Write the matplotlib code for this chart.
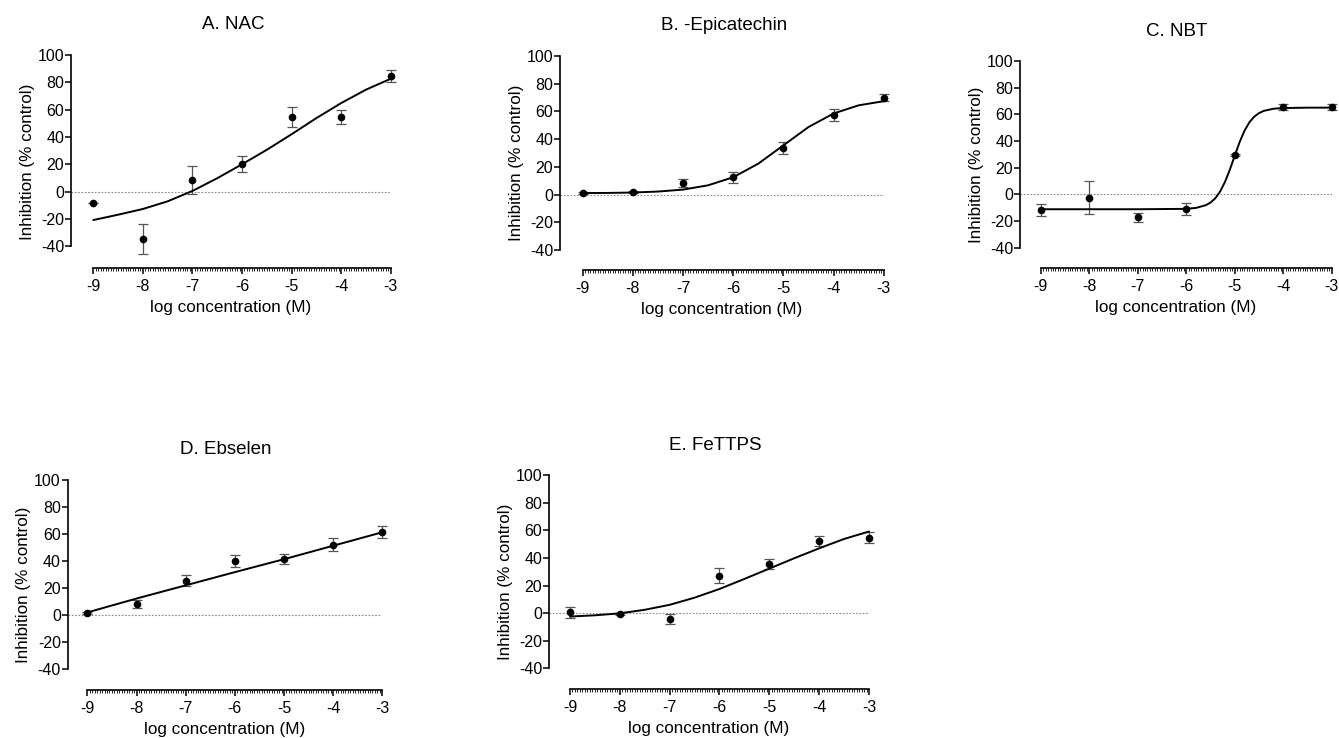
import matplotlib
matplotlib.use("Agg")
import matplotlib.pyplot as plt
import numpy as np
from matplotlib.ticker import FixedLocator

plt.rcParams['font.family'] = ['Liberation Sans', 'DejaVu Sans']
plt.rcParams['axes.unicode_minus'] = False

# ---- data ----
log_conc = [-9, -8, -7, -6, -5, -4, -3]
x_ticks = [-9, -8, -7, -6, -5, -4, -3]
y_ticks = [-40, -20, 0, 20, 40, 60, 80, 100]

titles = ["A. NAC", "B. -Epicatechin", "C. NBT", "D. Ebselen", "E. FeTTPS"]

nac_mean = [-8.0, -34.7, 8.5, 20.2, 54.5, 54.5, 84.8]
nac_err = [0.0, 11.0, 10.6, 6.0, 7.5, 5.0, 4.2]
nac_curve_x = [-9, -8.5, -8, -7.5, -7, -6.5, -6, -5.5, -5, -4.5, -4, -3.5, -3]
nac_curve_y = [-20.8, -16.9, -12.7, -7.1, 0.5, 9.8, 20.0, 30.6, 42.0, 53.8, 64.8, 74.6, 82.6]

epi_mean = [1.0, 2.1, 8.6, 12.5, 33.5, 57.5, 69.8]
epi_err = [0.8, 0.8, 3.0, 4.0, 4.2, 4.2, 2.6]
epi_curve_x = [-9, -8.5, -8, -7.5, -7, -6.5, -6, -5.5, -5, -4.5, -4, -3.5, -3]
epi_curve_y = [1.1, 1.2, 1.5, 2.2, 3.6, 6.7, 12.5, 22.3, 35.5, 48.7, 58.5, 64.4, 67.4]

nbt_mean = [-11.5, -2.5, -17.3, -11.0, 29.5, 65.5, 65.3]
nbt_err = [4.5, 12.3, 3.6, 4.8, 1.0, 2.0, 2.2]
nbt_curve_x = [-9, -8, -7, -6, -5.8, -5.6, -5.5, -5.4, -5.3, -5.2, -5.1, -5.0,
               -4.9, -4.8, -4.7, -4.6, -4.5, -4.4, -4.2, -4.0, -3.5, -3.0]
nbt_curve_y = [-11.2, -11.2, -11.2, -10.9, -10.2, -8.2, -6.2, -2.9, 2.2, 9.4, 18.6, 29.0,
               39.1, 47.6, 53.9, 58.2, 60.9, 62.6, 64.2, 64.7, 65.0, 65.0]

ebs_mean = [1.0, 7.9, 25.2, 40.0, 41.3, 52.0, 61.3]
ebs_err = [0.7, 3.1, 4.2, 4.4, 3.6, 5.0, 4.6]
ebs_curve_x = [-9, -8, -7, -6, -5, -4, -3]
ebs_curve_y = [1.7, 12.0, 21.8, 31.6, 41.2, 51.2, 61.2]

fe_mean = [0.5, -0.6, -4.3, 27.0, 35.5, 52.3, 54.6]
fe_err = [3.8, 0.8, 3.8, 5.5, 3.5, 3.8, 4.0]
fe_curve_x = [-9, -8.5, -8, -7.5, -7, -6.5, -6, -5.5, -5, -4.5, -4, -3.5, -3]
fe_curve_y = [-2.5, -1.6, -0.2, 2.4, 6.0, 11.2, 17.5, 24.8, 32.3, 39.8, 47.0, 53.8, 59.2]

panels = [
    (nac_mean, nac_err, nac_curve_x, nac_curve_y),
    (epi_mean, epi_err, epi_curve_x, epi_curve_y),
    (nbt_mean, nbt_err, nbt_curve_x, nbt_curve_y),
    (ebs_mean, ebs_err, ebs_curve_x, ebs_curve_y),
    (fe_mean, fe_err, fe_curve_x, fe_curve_y),
]

# ---- layout (pixels) ----
W, H = 1339, 738
# (left px, right px at x=-3, top px at y=100, bottom px = x-axis, xlim left, ylim bottom)
boxes = [
    (71, 390.7, 55, 268, -9.45, -55.9),
    (560, 883.7, 56, 270, -9.45, -54.4),
    (1020, 1331.7, 61, 268.3, -9.43, -55.5),
    (67.7, 382.3, 480, 690, -9.40, -55.9),
    (549, 869, 475.3, 689.3, -9.42, -55.3),
]
title_pos = [(233, 24.5), (724, 25), (1177, 31.5), (226, 449), (715, 445)]
minor_pos = np.arange(-9, -2.99, 0.05)

fig = plt.figure(figsize=(W / 100, H / 100), dpi=100)

for i, ((mean, err, cx, cy), (l, r, t, b, xl, yl)) in enumerate(zip(panels, boxes)):
    ax = fig.add_axes([l / W, (H - b) / H, (r - l) / W, (b - t) / H])
    ax.set_xlim(xl, -3)
    ax.set_ylim(yl, 100)
    for s in ['top', 'right']:
        ax.spines[s].set_visible(False)
    ax.spines['left'].set_bounds(-40, 100)
    ax.spines['bottom'].set_bounds(-9, -3)
    ax.spines['left'].set_linewidth(1.2)
    ax.spines['bottom'].set_linewidth(1.2)
    ax.set_xticks(x_ticks)
    ax.set_yticks(y_ticks)
    ax.xaxis.set_minor_locator(FixedLocator(minor_pos))
    ax.tick_params(axis='x', which='major', length=4, width=1.1, pad=4, labelsize=11.5)
    ax.tick_params(axis='x', which='minor', length=2, width=0.6)
    ax.tick_params(axis='y', which='major', length=4, width=1.1, pad=1, labelsize=11.5)
    ax.axhline(0, color='#888888', lw=0.8, ls=(0, (1.5, 1.5)), zorder=1)
    ax.plot(cx, cy, color='black', lw=1.4, zorder=3, clip_on=False,
            solid_joinstyle='round', solid_capstyle='round')
    ax.errorbar(log_conc, mean, yerr=err, fmt='none', ecolor='#555555',
                elinewidth=0.9, capsize=3.5, capthick=0.9, zorder=2, clip_on=False)
    ax.plot(log_conc, mean, 'o', color='black', ms=4.5, zorder=4, clip_on=False)
    ax.set_xlabel("log concentration (M)", fontsize=12.3, labelpad=4)
    ax.set_ylabel("Inhibition (% control)", fontsize=12.3, labelpad=2)
    ax.patch.set_visible(False)
    tx, ty = title_pos[i]
    fig.text(tx / W, 1 - ty / H, titles[i], ha='center', va='center', fontsize=13.5)

fig.savefig("out.png", dpi=100)
